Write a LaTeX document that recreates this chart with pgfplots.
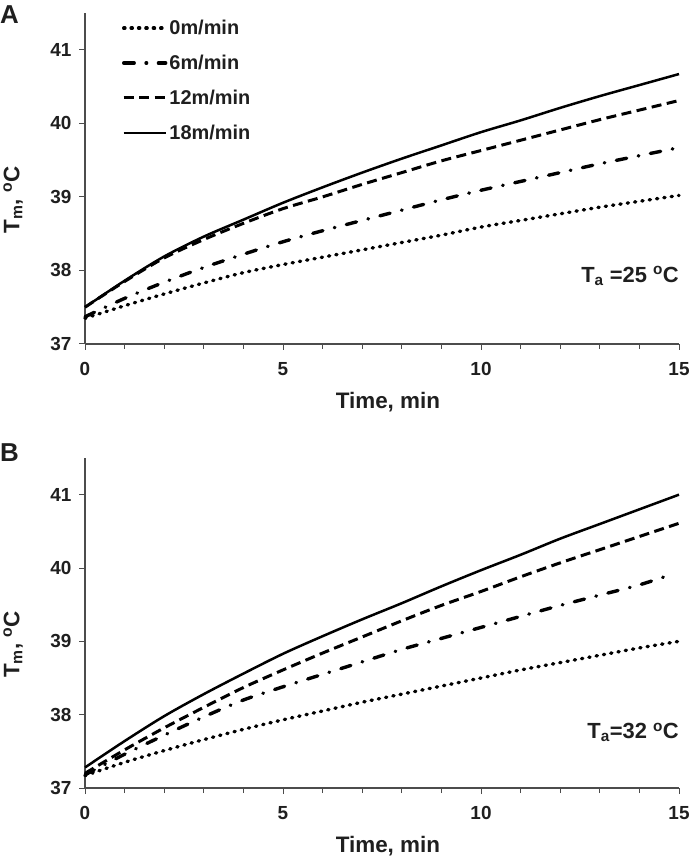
\documentclass[border=0pt]{standalone}
\usepackage{fontspec}
\setmainfont{Liberation Sans}
\usepackage{pgfplots}
\pgfplotsset{compat=1.18}

\pgfplotsset{
  myaxis/.style={
    scale only axis, width=594bp,
    xmin=0, xmax=15, ymin=37, ymax=41.5,
    axis lines=left, axis line style={-, draw=black!70, line width=1.1bp},
    xtick={0,5,10,15}, minor x tick num=4, ytick={37,38,39,40,41},
    tick align=outside, major tick length=6bp, minor tick length=5bp,
    every tick/.style={draw=black!70, line width=1bp},
    /pgf/number format/assume math mode=true,
    xticklabel style={yshift=-9bp, font=\fontsize{19}{22}\selectfont\bfseries, text=black!88},
    yticklabel style={xshift=-4bp, font=\fontsize{19}{22}\selectfont\bfseries, text=black!88},
    xlabel={Time, min}, ylabel={T\textsubscript{m}, \textsuperscript{o}C},
    every axis x label/.style={at={(axis description cs:0.51,-0.175)}, anchor=center,
      font=\fontsize{22.5}{26}\selectfont\bfseries, text=black!88},
    every axis y label/.style={at={(axis description cs:-0.121,0.435)}, anchor=center, rotate=90,
      font=\fontsize{22.5}{26}\selectfont\bfseries, text=black!88},
    clip=false,
  },
  sdot/.style={black, line width=3.4bp, line cap=round, dash pattern=on 1.2bp off 6.2bp, smooth},
  sdashdot/.style={black, line width=3.4bp, line cap=round, dash pattern=on 10.5bp off 11.8bp on 0.6bp off 11.8bp, smooth},
  sdash/.style={black, line width=3bp, dash pattern=on 10bp off 5.5bp, smooth},
  ssolid/.style={black, line width=2.5bp, solid, smooth},
}

\begin{document}
\begin{tikzpicture}
% ---------------- Panel A ----------------
\begin{axis}[myaxis, height=331bp, at={(85bp,514bp)}, anchor=south west,
  legend cell align=left,
  legend image code/.code={\draw[#1] (0bp,0bp) -- (42bp,0bp);},
  legend style={draw=none, fill=none, at={(axis description cs:0.062,0.985)}, anchor=north west,
    inner sep=0pt, row sep=15bp, font=\fontsize{20}{22}\selectfont\bfseries,
    nodes={inner sep=2bp, text=black!88}},
]
\addplot[sdot] coordinates {(0,37.35) (1,37.52) (2,37.68) (3,37.83) (4,37.97) (5,38.08) (6,38.18) (7,38.28) (8,38.38) (9,38.48) (10,38.59) (11,38.68) (12,38.77) (13,38.86) (14,38.94) (15,39.02)};
\addlegendentry{0m/min}
\addplot[sdashdot] coordinates {(0,37.37) (1,37.62) (2,37.84) (3,38.04) (4,38.22) (5,38.39) (6,38.54) (7,38.68) (8,38.82) (9,38.96) (10,39.09) (11,39.21) (12,39.33) (13,39.45) (14,39.56) (15,39.67)};
\addlegendentry{6m/min}
\addplot[sdash] coordinates {(0,37.50) (1,37.85) (2,38.17) (3,38.42) (4,38.64) (5,38.84) (6,39.00) (7,39.17) (8,39.33) (9,39.49) (10,39.63) (11,39.77) (12,39.91) (13,40.05) (14,40.18) (15,40.31)};
\addlegendentry{12m/min}
\addplot[ssolid] coordinates {(0,37.50) (1,37.86) (2,38.19) (3,38.46) (4,38.69) (5,38.92) (6,39.13) (7,39.33) (8,39.52) (9,39.70) (10,39.88) (11,40.04) (12,40.21) (13,40.37) (14,40.52) (15,40.67)};
\addlegendentry{18m/min}
\node[anchor=base east, inner sep=0pt, font=\fontsize{22}{26}\selectfont\bfseries, text=black!88] at (axis cs:15,37.84) {T\textsubscript{a} =25 \textsuperscript{o}C};
\end{axis}
% ---------------- Panel B ----------------
\begin{axis}[myaxis, height=330bp, at={(85bp,70bp)}, anchor=south west]
\addplot[sdot] coordinates {(0,37.17) (1,37.35) (2,37.51) (3,37.66) (4,37.80) (5,37.93) (6,38.05) (7,38.17) (8,38.28) (9,38.39) (10,38.50) (11,38.61) (12,38.71) (13,38.81) (14,38.91) (15,39.00)};
\addplot[sdashdot] coordinates {(0,37.18) (1,37.46) (2,37.72) (3,37.97) (4,38.20) (5,38.38) (6,38.55) (7,38.72) (8,38.89) (9,39.04) (10,39.19) (11,39.34) (12,39.49) (13,39.63) (14,39.77) (14.85,39.92)};
\addplot[sdash] coordinates {(0,37.20) (1,37.52) (2,37.82) (3,38.10) (4,38.37) (5,38.61) (6,38.84) (7,39.06) (8,39.28) (9,39.49) (10,39.68) (11,39.88) (12,40.07) (13,40.25) (14,40.43) (15,40.61)};
\addplot[ssolid] coordinates {(0,37.28) (1,37.64) (2,37.98) (3,38.28) (4,38.56) (5,38.83) (6,39.07) (7,39.30) (8,39.52) (9,39.75) (10,39.97) (11,40.18) (12,40.40) (13,40.60) (14,40.80) (15,41.00)};
\node[anchor=base east, inner sep=0pt, font=\fontsize{22}{26}\selectfont\bfseries, text=black!88] at (axis cs:15,37.67) {T\textsubscript{a}=32 \textsuperscript{o}C};
\end{axis}
\node[anchor=north west, inner sep=0pt, font=\fontsize{26}{30}\selectfont\bfseries, text=black!88] at (0bp,853bp) {A};
\node[anchor=north west, inner sep=0pt, font=\fontsize{26}{30}\selectfont\bfseries, text=black!88] at (0bp,415bp) {B};
\pgfresetboundingbox
\path (0bp,0bp) rectangle (695bp,858bp);
\end{tikzpicture}
\end{document}
